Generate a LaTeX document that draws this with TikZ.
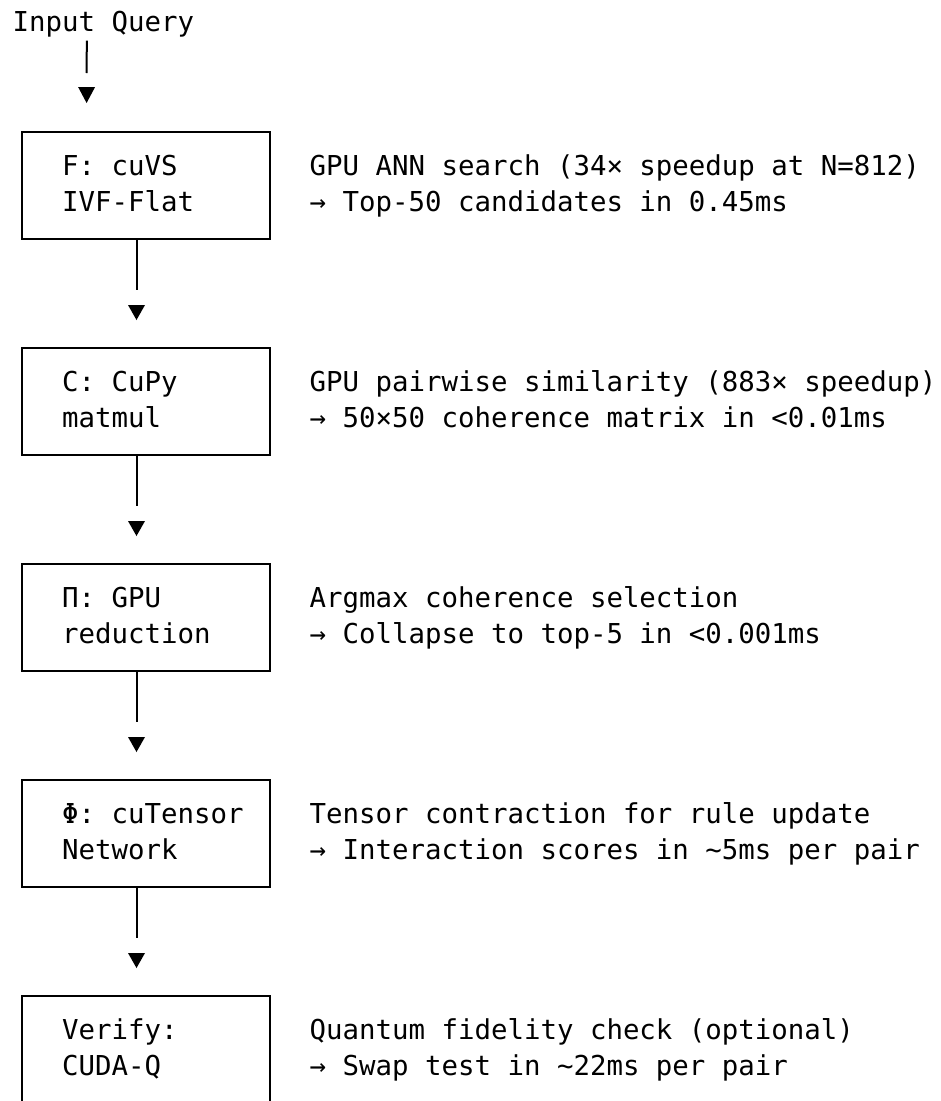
\documentclass[tikz,border=0pt]{standalone}
\usepackage{fontspec}
\newfontfamily\dvmono{DejaVu Sans Mono}
\tikzset{
  frame/.style={draw, line width=2pt, minimum width=247.8pt, minimum height=107pt, inner sep=0pt, anchor=north west},
  lbl/.style={anchor=base west, inner sep=0pt, font=\dvmono\fontsize{27.4}{34}\selectfont},
  conn/.style={line width=2pt},
  tiptri/.style={fill=black}
}
\begin{document}
\begin{tikzpicture}[x=1pt,y=-1pt]
\useasboundingbox (0,0) rectangle (941,1101);
% input
\node[lbl] (inq) at (12.4,31.7) {Input Query};
% boxes
\node[frame] (f)   at (20.7,131) {};
\node[frame] (c)   at (20.7,347) {};
\node[frame] (pi)  at (20.7,563) {};
\node[frame] (phi) at (20.7,779) {};
\node[frame, minimum height=112pt] (ver) at (20.7,995) {};
% box labels
\node[lbl] (f1) at (61.9,175.7) {F: cuVS};
\node[lbl] (f2) at (61.9,211) {IVF-Flat};
\node[lbl] (c1) at (61.9,391.7) {C: CuPy};
\node[lbl] (c2) at (61.9,427) {matmul};
\node[lbl] (p1) at (61.9,607.7) {Π: GPU};
\node[lbl] (p2) at (61.9,643) {reduction};
\node[lbl] (h1) at (61.9,823.7) {Φ: cuTensor};
\node[lbl] (h2) at (61.9,859) {Network};
\node[lbl] (v1) at (61.9,1039.7) {Verify:};
\node[lbl] (v2) at (61.9,1075) {CUDA-Q};
% descriptions
\node[lbl] (fd1) at (309.4,175.7) {GPU ANN search (34× speedup at N=812)};
\node[lbl] (fd2) at (309.4,211) {→ Top-50 candidates in 0.45ms};
\node[lbl] (cd1) at (309.4,391.7) {GPU pairwise similarity (883× speedup)};
\node[lbl] (cd2) at (309.4,427) {→ 50×50 coherence matrix in <0.01ms};
\node[lbl] (pd1) at (309.4,607.7) {Argmax coherence selection};
\node[lbl] (pd2) at (309.4,643) {→ Collapse to top-5 in <0.001ms};
\node[lbl] (hd1) at (309.4,823.7) {Tensor contraction for rule update};
\node[lbl] (hd2) at (309.4,859) {→ Interaction scores in \textasciitilde5ms per pair};
\node[lbl] (vd1) at (309.4,1039.7) {Quantum fidelity check (optional)};
\node[lbl] (vd2) at (309.4,1075) {→ Swap test in \textasciitilde22ms per pair};
% connectors
\draw[conn] ([xshift=-16.5pt,yshift=-3pt]inq.south) -- ([xshift=65.9pt,yshift=58pt]f.north west);
\fill[tiptri] ([xshift=65.9pt,yshift=28pt]f.north west) -- ++(-8.5,-16) -- ++(17,0) -- cycle;
\foreach \a/\b in {f/c, c/pi, pi/phi, phi/ver}{
  \draw[conn] ([xshift=115.8pt]\a.south west) -- ([xshift=115.8pt,yshift=57pt]\b.north west);
  \fill[tiptri] ([xshift=115.8pt,yshift=27pt]\b.north west) -- ++(-8.5,-15) -- ++(17,0) -- cycle;
}
\end{tikzpicture}
\end{document}
